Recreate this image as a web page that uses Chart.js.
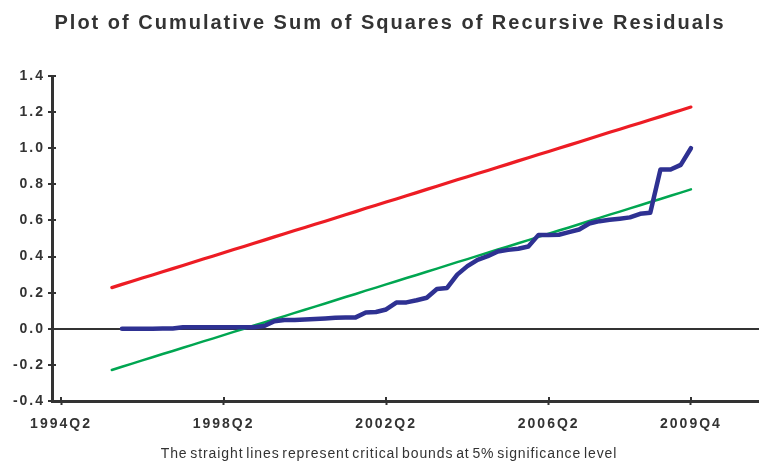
<!DOCTYPE html>
<html>
<head>
<meta charset="utf-8">
<script src="https://cdn.jsdelivr.net/npm/chart.js@4.4.0/dist/chart.umd.min.js"></script>
<style>
html,body{margin:0;padding:0;background:#fff;}
#wrap{width:759px;height:461px;position:relative;}
</style>
</head>
<body>
<div id="wrap"><canvas id="c" width="759" height="461"></canvas></div>
<script>
const quarters = [
  '1994Q2','1994Q3','1994Q4',
  '1995Q1','1995Q2','1995Q3','1995Q4',
  '1996Q1','1996Q2','1996Q3','1996Q4',
  '1997Q1','1997Q2','1997Q3','1997Q4',
  '1998Q1','1998Q2','1998Q3','1998Q4',
  '1999Q1','1999Q2','1999Q3','1999Q4',
  '2000Q1','2000Q2','2000Q3','2000Q4',
  '2001Q1','2001Q2','2001Q3','2001Q4',
  '2002Q1','2002Q2','2002Q3','2002Q4',
  '2003Q1','2003Q2','2003Q3','2003Q4',
  '2004Q1','2004Q2','2004Q3','2004Q4',
  '2005Q1','2005Q2','2005Q3','2005Q4',
  '2006Q1','2006Q2','2006Q3','2006Q4',
  '2007Q1','2007Q2','2007Q3','2007Q4',
  '2008Q1','2008Q2','2008Q3','2008Q4',
  '2009Q1','2009Q2','2009Q3','2009Q4'
];
const xTickLabels = ['1994Q2','1998Q2','2002Q2','2006Q2','2009Q4'];

// Cumulative sum of squares of recursive residuals (blue)
const cusumsq = [
  null,null,null,null,null,null,
  0.000,0.000,0.000,0.000,0.001,0.002,0.008,0.008,0.008,0.008,
  0.008,0.008,0.008,0.009,0.015,0.042,0.048,0.048,0.051,0.054,
  0.057,0.061,0.062,0.063,0.090,0.093,0.107,0.145,0.146,0.158,
  0.172,0.220,0.226,0.300,0.347,0.382,0.402,0.428,0.437,0.443,
  0.456,0.520,0.520,0.521,0.535,0.550,0.583,0.596,0.604,0.610,
  0.617,0.637,0.643,0.882,0.882,0.908,1.000
];
// Upper 5% critical bound (red)
const upperBound = [
  null,null,null,null,null,
  0.228,0.246,0.263,0.281,0.298,0.316,0.333,0.351,0.368,0.386,
  0.403,0.421,0.439,0.456,0.474,0.491,0.509,0.526,0.544,0.561,
  0.579,0.596,0.614,0.632,0.649,0.667,0.684,0.702,0.719,0.737,
  0.754,0.772,0.789,0.807,0.825,0.842,0.860,0.877,0.895,0.912,
  0.930,0.947,0.965,0.982,1.000,1.017,1.035,1.053,1.070,1.088,
  1.105,1.123,1.140,1.158,1.175,1.193,1.210,1.228
];
// Lower 5% critical bound (green)
const lowerBound = [
  null,null,null,null,null,
  -0.228,-0.210,-0.193,-0.175,-0.158,-0.140,-0.123,-0.105,-0.088,-0.070,
  -0.053,-0.035,-0.017,0.000,0.018,0.035,0.053,0.070,0.088,0.105,
  0.123,0.140,0.158,0.176,0.193,0.211,0.228,0.246,0.263,0.281,
  0.298,0.316,0.333,0.351,0.369,0.386,0.404,0.421,0.439,0.456,
  0.474,0.491,0.509,0.526,0.544,0.561,0.579,0.597,0.614,0.632,
  0.649,0.667,0.684,0.702,0.719,0.737,0.754,0.772
];

const titleText = 'Plot of Cumulative Sum of Squares of Recursive Residuals';
const captionText = 'The straight lines represent critical bounds at 5% significance level';

const AXIS = '#333333';
const FONT = '"Liberation Sans", Arial, sans-serif';

function toPoints(arr){ return arr.map((y,i)=>({x:i, y:y})); }

const spacingPlugin = {
  id:'spacing',
  beforeUpdate(chart){ chart.ctx.letterSpacing = '2px'; },
  beforeDraw(chart){ chart.ctx.letterSpacing = '2px'; }
};

const innerTicks = {
  id:'innerTicks',
  afterDraw(chart){
    const {ctx, chartArea:a, scales:{x, y}} = chart;
    ctx.save();
    ctx.strokeStyle = AXIS; ctx.lineWidth = 2;
    y.ticks.forEach(t=>{
      const py = Math.round(y.getPixelForValue(t.value));
      ctx.beginPath(); ctx.moveTo(a.left, py); ctx.lineTo(a.left+4, py); ctx.stroke();
    });
    x.ticks.forEach(t=>{
      const px = Math.round(x.getPixelForValue(t.value));
      ctx.beginPath(); ctx.moveTo(px, a.bottom); ctx.lineTo(px, a.bottom-4); ctx.stroke();
    });
    ctx.restore();
  }
};

const texts = {
  id:'texts',
  afterDraw(chart){
    const ctx = chart.ctx;
    ctx.save();
    ctx.fillStyle = AXIS;
    ctx.textAlign = 'center';
    ctx.textBaseline = 'alphabetic';
    ctx.letterSpacing = '2px';
    ctx.font = 'bold 20px ' + FONT;
    ctx.fillText(titleText, 390, 29);
    ctx.letterSpacing = '0.9px';
    ctx.wordSpacing = '-2px';
    ctx.font = '14px ' + FONT;
    ctx.fillText(captionText, 389, 458);
    ctx.restore();
  }
};

function yLabel(v){
  const r = Math.round(v * 10);
  if (r % 2 !== 0) return '';
  const val = r === 0 ? 0 : r / 10;
  return val.toFixed(1);
}

new Chart(document.getElementById('c'), {
  type:'line',
  data:{
    datasets:[
      {label:'Upper bound', data:toPoints(upperBound), borderColor:'#ED1C24', borderWidth:3.2, pointRadius:0, fill:false, tension:0, borderCapStyle:'round', borderJoinStyle:'round', order:2},
      {label:'Lower bound', data:toPoints(lowerBound), borderColor:'#00A651', borderWidth:2.5, pointRadius:0, fill:false, tension:0, borderCapStyle:'round', borderJoinStyle:'round', order:1},
      {label:'CUSUM of squares', data:toPoints(cusumsq), borderColor:'#2E3192', borderWidth:4.5, pointRadius:0, fill:false, tension:0, borderCapStyle:'round', borderJoinStyle:'round', order:0}
    ]
  },
  options:{
    responsive:false,
    animation:false,
    events:[],
    layout:{padding:{top:76,left:0,right:0,bottom:0}},
    plugins:{legend:{display:false}, title:{display:false}, tooltip:{enabled:false}},
    scales:{
      x:{
        type:'linear',
        min:-0.886, max:68.7,
        afterBuildTicks(scale){ scale.ticks = xTickLabels.map(l=>({value:quarters.indexOf(l)})); },
        afterFit(scale){ scale.height = 60; },
        ticks:{
          autoSkip:false, maxRotation:0, minRotation:0, padding:11,
          color:AXIS, font:{family:FONT, size:14, weight:'bold'},
          callback:(v)=>quarters[v]
        },
        grid:{drawOnChartArea:false, drawTicks:true, tickLength:4, tickWidth:2, tickColor:AXIS},
        border:{display:true, color:AXIS, width:3}
      },
      y:{
        min:-0.4, max:1.4,
        afterFit(scale){ scale.width = 52; },
        ticks:{
          stepSize:0.1, padding:3, color:AXIS,
          font:{family:FONT, size:14, weight:'bold'},
          callback:yLabel
        },
        grid:{
          drawOnChartArea:true, drawTicks:true, tickLength:4, tickWidth:2, tickColor:AXIS,
          color:(c)=> (c.tick && Math.abs(c.tick.value) < 1e-9) ? AXIS : 'rgba(0,0,0,0)',
          lineWidth:(c)=> (c.tick && Math.abs(c.tick.value) < 1e-9) ? 2 : 0
        },
        border:{display:true, color:AXIS, width:3}
      }
    }
  },
  plugins:[spacingPlugin, innerTicks, texts]
});
</script>
</body>
</html>
